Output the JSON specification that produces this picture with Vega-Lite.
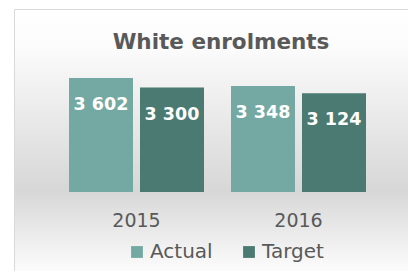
{
  "$schema": "https://vega.github.io/schema/vega-lite/v6.json",
  "width": 394,
  "height": 262,
  "autosize": {"type": "none"},
  "padding": {"left": 14, "top": 9, "right": 0, "bottom": 0},
  "background": "#ffffff",
  "title": {
    "text": "White enrolments",
    "font": "DejaVu Sans",
    "fontSize": 21.5,
    "fontWeight": "bold",
    "color": "#595959",
    "anchor": "middle",
    "frame": "group",
    "baseline": "alphabetic",
    "offset": -61,
    "dx": 10
  },
  "data": {
    "values": [
      {"year": "2015", "series": "Actual", "value": 3602},
      {"year": "2015", "series": "Target", "value": 3300},
      {"year": "2016", "series": "Actual", "value": 3348},
      {"year": "2016", "series": "Target", "value": 3124}
    ]
  },
  "encoding": {
    "x": {
      "field": "year",
      "type": "nominal",
      "scale": {"paddingInner": 0.1667, "paddingOuter": 0.2994, "align": 0.567},
      "axis": {
        "title": null,
        "orient": "bottom",
        "offset": -44.5,
        "domain": false,
        "ticks": false,
        "tickSize": 0,
        "grid": false,
        "labelAngle": 0,
        "labelPadding": 0,
        "labelBaseline": "alphabetic",
        "labelFont": "DejaVu Sans",
        "labelFontSize": 19,
        "labelColor": "#595959"
      }
    },
    "xOffset": {
      "field": "series",
      "type": "nominal",
      "scale": {"paddingInner": 0.0986, "paddingOuter": 0}
    },
    "y": {
      "field": "value",
      "type": "quantitative",
      "scale": {"domain": [-2496, 5782], "nice": false, "zero": false},
      "axis": null
    }
  },
  "layer": [
    {
      "mark": {"type": "bar"},
      "encoding": {
        "color": {
          "field": "series",
          "type": "nominal",
          "scale": {"domain": ["Actual", "Target"], "range": ["#74a9a3", "#4a7a72"]},
          "legend": {
            "title": null,
            "orient": "none",
            "direction": "horizontal",
            "legendX": 113,
            "legendY": 233,
            "padding": 0,
            "symbolType": "square",
            "symbolSize": 140,
            "symbolStrokeWidth": 0,
            "labelFont": "DejaVu Sans",
            "labelFontSize": 20,
            "labelColor": "#595959",
            "labelOffset": 3,
            "columnPadding": 26
          }
        }
      }
    },
    {
      "mark": {
        "type": "text",
        "baseline": "alphabetic",
        "align": "center",
        "dy": 32,
        "font": "DejaVu Sans",
        "fontSize": 17.5,
        "fontWeight": "bold",
        "color": "#ffffff"
      },
      "encoding": {
        "text": {"field": "value", "type": "quantitative", "format": ","}
      }
    }
  ],
  "config": {
    "locale": {
      "number": {"decimal": ".", "thousands": " ", "grouping": [3], "currency": ["", ""]}
    },
    "view": {
      "fill": {
        "gradient": "linear",
        "x1": 0, "y1": 0, "x2": 0, "y2": 1,
        "stops": [
          {"offset": 0, "color": "#ffffff"},
          {"offset": 0.15, "color": "#fbfbfb"},
          {"offset": 0.69, "color": "#d7d7d7"},
          {"offset": 1, "color": "#fcfcfc"}
        ]
      },
      "stroke": "#d9d9d9",
      "strokeWidth": 1
    }
  }
}
